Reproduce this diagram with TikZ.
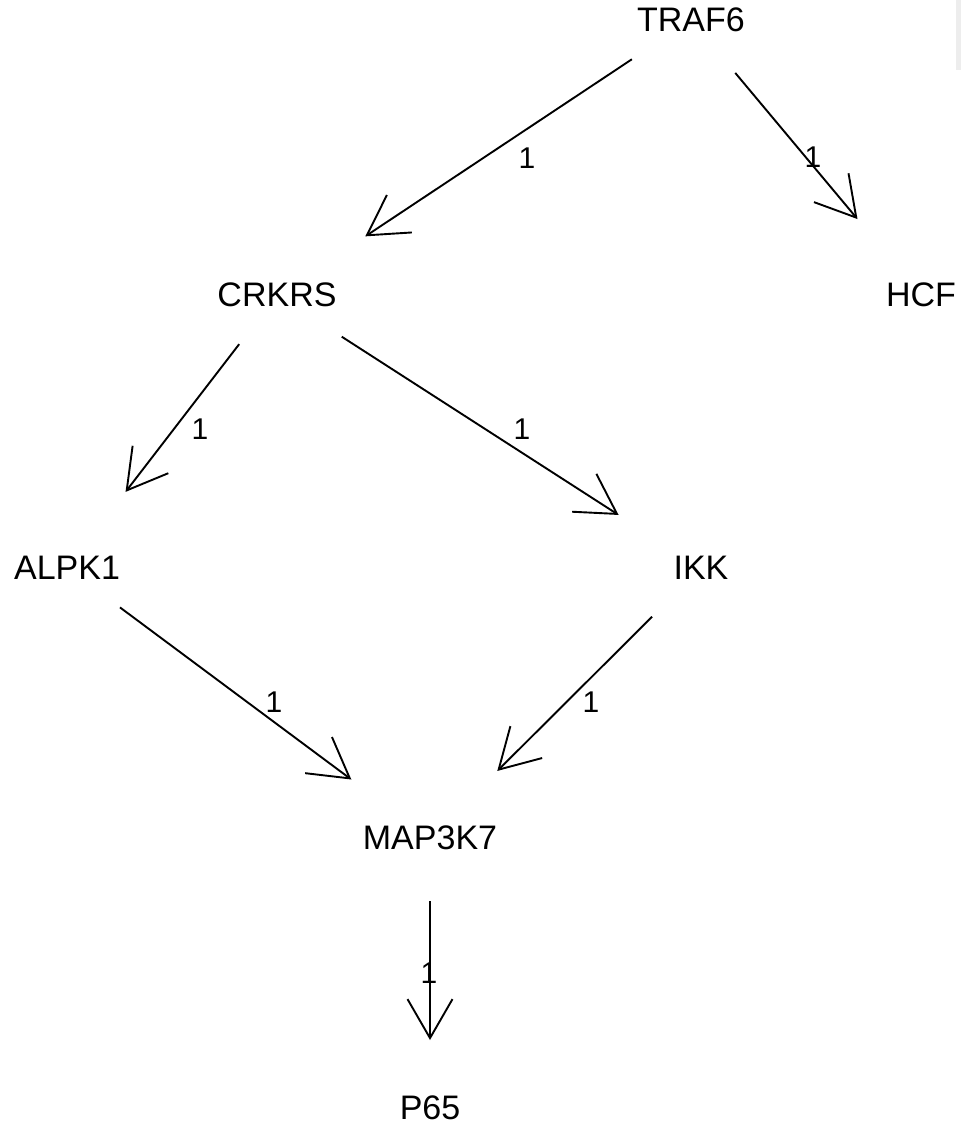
\documentclass[tikz,border=0pt]{standalone}
\usepackage{fontspec}
\setmainfont{Liberation Sans}
\usetikzlibrary{arrows.meta}
\begin{document}
\begin{tikzpicture}[x=1pt,y=-1pt,
  vertex/.style={inner sep=0pt,font=\fontsize{34}{40}\selectfont},
  elabel/.style={inner sep=0pt,font=\fontsize{30}{35}\selectfont},
  link/.style={line width=1.9pt,-{Straight Barb[length=39pt,width=45pt,sharp]}}]
  \useasboundingbox (0,0) rectangle (961,1124);
  % thin strip at the right edge
  \fill[black!7] (956,0) rectangle (961,70);

  % genes
  \node[vertex] (traf6)  at (691,20)   {TRAF6};
  \node[vertex] (crkrs)  at (277,295)  {CRKRS};
  \node[vertex] (hcf)    at (921,295)  {HCF};
  \node[vertex] (alpk1)  at (67,568)   {ALPK1};
  \node[vertex] (ikk)    at (701,568)  {IKK};
  \node[vertex] (map3k7) at (430,838)  {MAP3K7};
  \node[vertex] (p65)    at (430,1108) {P65};

  % interactions
  \draw[link,shorten <=71pt,shorten >=106pt] (traf6.center) -- (crkrs.center);
  \draw[link,shorten <=69pt,shorten >=99pt]  (traf6.center) -- (hcf.center);
  \draw[link,shorten <=62pt,shorten >=96pt]  (crkrs.center) -- (alpk1.center);
  \draw[link,shorten <=77pt,shorten >=98pt]  (crkrs.center) -- (ikk.center);
  \draw[link,shorten <=66pt,shorten >=98pt]  (alpk1.center) -- (map3k7.center);
  \draw[link,shorten <=69pt,shorten >=95pt]  (ikk.center) -- (map3k7.center);
  \draw[link,shorten <=63pt,shorten >=68pt]  (map3k7.center) -- (p65.center);

  % edge weights
  \node[elabel] (w1) at (527,158) {1};
  \node[elabel] (w2) at (813,157) {1};
  \node[elabel] (w3) at (200,429) {1};
  \node[elabel] (w4) at (522,429) {1};
  \node[elabel] (w5) at (274,702) {1};
  \node[elabel] (w6) at (591,702) {1};
  \node[elabel] (w7) at (429,973) {1};
\end{tikzpicture}
\end{document}
